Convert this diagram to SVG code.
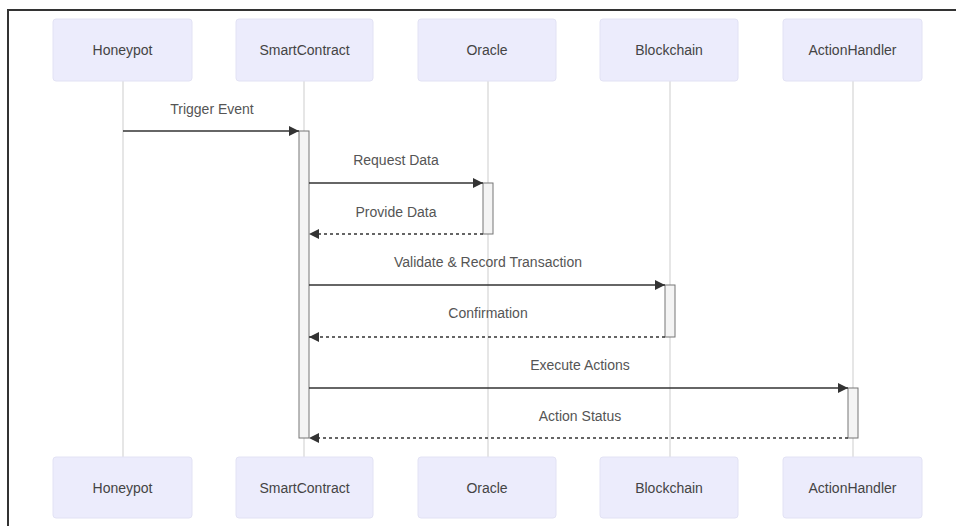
<svg xmlns="http://www.w3.org/2000/svg" width="956" height="526" viewBox="0 0 956 526">
<style>
.actor{fill:#ececfc;stroke:#e2e2f4;stroke-width:1}
.atext{font-family:"Liberation Sans",Arial,sans-serif;font-size:14px;fill:#444;text-anchor:middle;dominant-baseline:central}
.life{stroke:#d6d6d6;stroke-width:1.2}
.act{fill:#f4f4f4;stroke:#777;stroke-width:1}
.msg{stroke:#333;stroke-width:1.5;fill:none}
.dash{stroke-dasharray:3,3}
.mtext{font-family:"Liberation Sans",Arial,sans-serif;font-size:14px;fill:#555;text-anchor:middle;dominant-baseline:central}
</style>
<defs>
<marker id="arr" viewBox="0 0 10 10" refX="10" refY="5" markerWidth="10" markerHeight="10" markerUnits="userSpaceOnUse" orient="auto">
<path d="M0,0 L10,5 L0,10 z" fill="#333"/>
</marker>
</defs>
<rect x="0" y="0" width="956" height="526" fill="#ffffff"/>
<path d="M8,526 L8,10 L956,10" fill="none" stroke="#333" stroke-width="2"/>
<g id="lifelines">
<line class="life" x1="123" y1="81" x2="123" y2="457"/>
<line class="life" x1="304" y1="81" x2="304" y2="457"/>
<line class="life" x1="488" y1="81" x2="488" y2="457"/>
<line class="life" x1="670" y1="81" x2="670" y2="457"/>
<line class="life" x1="853" y1="81" x2="853" y2="457"/>
</g>
<g id="Honeypot">
<rect class="actor" x="53" y="19" width="139" height="62" rx="3"/>
<text class="atext" x="122.5" y="50">Honeypot</text>
<rect class="actor" x="53" y="457" width="139" height="61" rx="3"/>
<text class="atext" x="122.5" y="488">Honeypot</text>
</g>
<g id="SmartContract">
<rect class="actor" x="236" y="19" width="137" height="62" rx="3"/>
<text class="atext" x="304.5" y="50">SmartContract</text>
<rect class="actor" x="236" y="457" width="137" height="61" rx="3"/>
<text class="atext" x="304.5" y="488">SmartContract</text>
</g>
<g id="Oracle">
<rect class="actor" x="418" y="19" width="138" height="62" rx="3"/>
<text class="atext" x="487" y="50">Oracle</text>
<rect class="actor" x="418" y="457" width="138" height="61" rx="3"/>
<text class="atext" x="487" y="488">Oracle</text>
</g>
<g id="Blockchain">
<rect class="actor" x="600" y="19" width="138" height="62" rx="3"/>
<text class="atext" x="669" y="50">Blockchain</text>
<rect class="actor" x="600" y="457" width="138" height="61" rx="3"/>
<text class="atext" x="669" y="488">Blockchain</text>
</g>
<g id="ActionHandler">
<rect class="actor" x="783" y="19" width="139" height="62" rx="3"/>
<text class="atext" x="852.5" y="50">ActionHandler</text>
<rect class="actor" x="783" y="457" width="139" height="61" rx="3"/>
<text class="atext" x="852.5" y="488">ActionHandler</text>
</g>
<g id="activations">
<rect class="act" x="299" y="131" width="10" height="307"/>
<rect class="act" x="483" y="183" width="10" height="51"/>
<rect class="act" x="665" y="285" width="10" height="52"/>
<rect class="act" x="848" y="388" width="10" height="50"/>
</g>
<g id="connectors">
<line class="msg" x1="123" y1="131" x2="299" y2="131" marker-end="url(#arr)"/>
<text class="mtext" x="212" y="109">Trigger Event</text>
<line class="msg" x1="309" y1="183" x2="483" y2="183" marker-end="url(#arr)"/>
<text class="mtext" x="396" y="160">Request Data</text>
<line class="msg dash" x1="483" y1="234" x2="309" y2="234" marker-end="url(#arr)"/>
<text class="mtext" x="396" y="212">Provide Data</text>
<line class="msg" x1="309" y1="285" x2="665" y2="285" marker-end="url(#arr)"/>
<text class="mtext" x="488" y="262">Validate &amp; Record Transaction</text>
<line class="msg dash" x1="665" y1="337" x2="309" y2="337" marker-end="url(#arr)"/>
<text class="mtext" x="488" y="313">Confirmation</text>
<line class="msg" x1="309" y1="388" x2="848" y2="388" marker-end="url(#arr)"/>
<text class="mtext" x="580" y="365">Execute Actions</text>
<line class="msg dash" x1="848" y1="438" x2="309" y2="438" marker-end="url(#arr)"/>
<text class="mtext" x="580" y="416">Action Status</text>
</g>
</svg>
